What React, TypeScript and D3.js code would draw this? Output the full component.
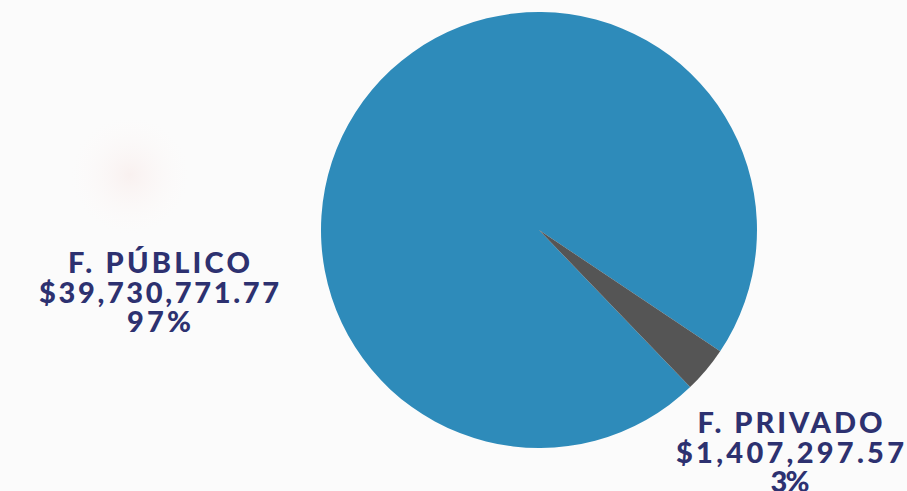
import React from "react";
import * as d3 from "d3";

const categories = ["F. PÚBLICO", "F. PRIVADO"];
const values = [39730771.77, 1407297.57];
const amountLabels = ["$39,730,771.77", "$1,407,297.57"];
const percentLabels = ["97%", "3%"];
const colors = ["#2E8BBA", "#555555"];

const W = 907;
const H = 491;
const cx = 539;
const cy = 230;
const R = 218;
const startDeg = 136.1;

const labelPos = [
  { x: 159, y: 273, widths: [182, 240, 64] },
  { x: 790, y: 433, widths: [185, 228, 39] },
];

export default function App() {
  const pie = d3
    .pie<number>()
    .sort(null)
    .value((d) => d)
    .startAngle((startDeg * Math.PI) / 180)
    .endAngle((startDeg * Math.PI) / 180 + 2 * Math.PI);
  const arcs = pie(values);
  const arc = d3.arc<d3.PieArcDatum<number>>().innerRadius(0).outerRadius(R);

  return (
    <svg
      width={W}
      height={H}
      style={{ position: "absolute", left: 0, top: 0, background: "#ffffff" }}
    >
      <defs>
        <radialGradient id="blob" cx="0.5" cy="0.5" r="0.5">
          <stop offset="0%" stopColor="#f7e6e4" stopOpacity={0.5} />
          <stop offset="100%" stopColor="#ffffff" stopOpacity={0} />
        </radialGradient>
      </defs>
      <rect x={0} y={0} width={W} height={H} fill="#fbfbfb" />
      <circle cx={130} cy={175} r={70} fill="url(#blob)" />
      <g transform={`translate(${cx},${cy})`}>
        {arcs.map((a, i) => (
          <path key={i} d={arc(a) || ""} fill={colors[i]} />
        ))}
      </g>
      {categories.map((c, i) => {
        const p = labelPos[i];
        const lines = [c, amountLabels[i], percentLabels[i]];
        return (
          <text
            key={c}
            textAnchor="middle"
            fill="#2D3170"
            fontFamily="Lato, sans-serif"
            fontWeight={900}
            fontSize={29}
          >
            {lines.map((l, j) => (
              <tspan
                key={j}
                x={p.x}
                y={p.y + j * 29.5}
                textLength={p.widths[j]}
                lengthAdjust="spacing"
              >
                {l}
              </tspan>
            ))}
          </text>
        );
      })}
    </svg>
  );
}
